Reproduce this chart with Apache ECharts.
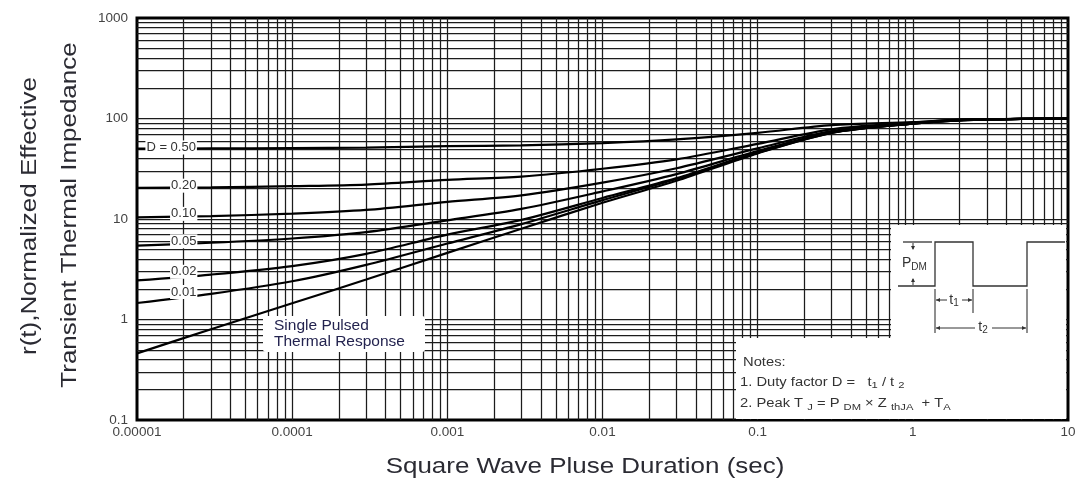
<!DOCTYPE html>
<html><head><meta charset="utf-8">
<script src="https://cdn.jsdelivr.net/npm/echarts@6/dist/echarts.min.js"></script>
<style>html,body{margin:0;padding:0;background:#fff}#c{width:1083px;height:494px}</style>
</head><body><div id="c"></div>
<script>
// ---- data ----
const durations   = [1e-5, 3e-5, 1e-4, 3e-4, 1e-3, 3e-3, 1e-2, 3e-2, 0.1, 0.3, 1, 2, 5, 10];
const singlePulse = [0.46, 0.8, 1.45, 2.5, 4.6, 8, 14.5, 24, 45, 72, 89, 96, 99, 100];
const dutyD001    = [1.46, 1.8, 2.4, 3.5, 5.7, 8.9, 15.4, 25, 45.5, 72, 89, 96, 99, 100];
const dutyD002    = [2.45, 2.8, 3.4, 4.5, 7.0, 9.8, 16.2, 25.5, 46, 72.5, 89, 96, 99, 100];
const dutyD005    = [5.44, 5.8, 6.4, 7.4, 9.7, 12.6, 18.8, 28, 47.5, 73, 89.5, 96.5, 99, 100];
const dutyD010    = [10.4, 10.7, 11.3, 12.3, 14.8, 17.2, 23, 32, 50.5, 75, 90, 96.5, 99, 100];
const dutyD020    = [20.4, 20.6, 21.2, 22, 24.5, 26.4, 31.6, 39.2, 56, 78, 91, 97, 99, 100];
const dutyD050    = [50.2, 50.4, 50.7, 51.3, 53, 54, 57, 62, 72, 86, 92, 97.5, 99, 100];
const curveLabels = ['D = 0.50', '0.20', '0.10', '0.05', '0.02', '0.01'];
const labelAnchors = [[1.66e-5, 50.3], [2e-5, 20.5], [2e-5, 10.5], [2e-5, 5.6], [2e-5, 2.6], [2e-5, 1.6]];
const xTickLabels = ['0.00001', '0.0001', '0.001', '0.01', '0.1', '1', '10'];
const yTickLabels = ['0.1', '1', '10', '100', '1000'];

// grid line values (1..9 x each decade)
const xGridVals = [];
for (let e = -5; e <= 0; e++) for (let k = 1; k <= 9; k++) { if (!(e === -5 && k === 1)) xGridVals.push(+(k * Math.pow(10, e)).toPrecision(3)); }
const yGridVals = [];
for (let e = -1; e <= 2; e++) for (let k = 1; k <= 9; k++) { if (!(e === -1 && k === 1)) yGridVals.push(+(k * Math.pow(10, e)).toPrecision(3)); }

const FONT = "'Liberation Sans', Arial, sans-serif";
const chart = echarts.init(document.getElementById('c'), null, { renderer: 'canvas' });

function curve(vals, label, anchor, offY) {
  return {
    type: 'line', data: durations.map((t, i) => [t, vals[i]]),
    showSymbol: false, smooth: 0.3, z: 10,
    lineStyle: { color: '#000', width: 2.2 }, itemStyle: { color: '#000' },
    markPoint: label ? {
      z: 30, symbol: 'rect', symbolSize: 0, silent: true, animation: false,
      data: [{ coord: anchor }],
      label: { show: true, formatter: label, position: 'inside', offset: [0, offY],
        backgroundColor: '#fff', padding: [1, 1, 0, 1], color: '#333', fontSize: 13, fontFamily: FONT }
    } : undefined
  };
}

const option = {
  animation: false,
  backgroundColor: '#fff',
  grid: { left: 137, right: 15, top: 18, bottom: 74, show: true, borderColor: '#000', borderWidth: 3 },
  xAxis: {
    type: 'log', logBase: 10, min: 1e-5, max: 10, splitNumber: 6,
    axisLine: { show: false }, axisTick: { show: false }, splitLine: { show: false },
    axisLabel: { color: '#444', fontSize: 13.5, fontFamily: FONT, margin: 5,
      formatter: v => xTickLabels[Math.round(Math.log10(v)) + 5] }
  },
  yAxis: {
    type: 'log', logBase: 10, min: 0.1, max: 1000, splitNumber: 4,
    axisLine: { show: false }, axisTick: { show: false }, splitLine: { show: false },
    axisLabel: { color: '#444', fontSize: 13.5, fontFamily: FONT, margin: 9,
      formatter: v => yTickLabels[Math.round(Math.log10(v)) + 1] }
  },
  series: [
    {
      type: 'line', data: [], showSymbol: false, z: 1, silent: true,
      markLine: {
        z: 1, silent: true, symbol: ['none', 'none'], animation: false, precision: 12,
        label: { show: false },
        lineStyle: { type: 'solid', color: '#1c1c1c', width: 1.25 },
        emphasis: { disabled: true },
        data: xGridVals.map(v => ({ xAxis: v })).concat(yGridVals.map(v => ({ yAxis: v })))
      }
    },
    curve(singlePulse, null),
    curve(dutyD001, curveLabels[5], labelAnchors[5], -7),
    curve(dutyD002, curveLabels[4], labelAnchors[4], -6),
    curve(dutyD005, curveLabels[3], labelAnchors[3], -3),
    curve(dutyD010, curveLabels[2], labelAnchors[2], -3),
    curve(dutyD020, curveLabels[1], labelAnchors[1], -2),
    curve(dutyD050, curveLabels[0], labelAnchors[0], -1)
  ],
  graphic: [
    // axis titles
    { type: 'text', x: 30, y: 216, rotation: Math.PI / 2, scaleX: 1.18, z: 100,
      style: { text: 'r(t),Normalized Effective', font: '22px ' + FONT, fill: '#2b2b33', align: 'center', verticalAlign: 'middle' } },
    { type: 'text', x: 70, y: 215, rotation: Math.PI / 2, scaleX: 1.18, z: 100,
      style: { text: 'Transient Thermal Impedance', font: '22px ' + FONT, fill: '#2b2b33', align: 'center', verticalAlign: 'middle' } },
    { type: 'text', x: 585, y: 467, scaleX: 1.18, z: 100,
      style: { text: 'Square Wave Pluse Duration (sec)', font: '22px ' + FONT, fill: '#2b2b33', align: 'center', verticalAlign: 'middle' } },
    // inset white areas
    { type: 'rect', z: 50, shape: { x: 891, y: 225, width: 175, height: 194 }, style: { fill: '#fff' } },
    { type: 'rect', z: 50, shape: { x: 736, y: 338, width: 330, height: 81 }, style: { fill: '#fff' } },
    // single pulsed label
    { type: 'rect', z: 50, shape: { x: 263, y: 316, width: 162, height: 36, r: 3 }, style: { fill: '#fff' } },
    { type: 'text', x: 274, y: 318, z: 60,
      style: { text: 'Single Pulsed\nThermal Response', font: '15.5px ' + FONT, lineHeight: 16, fill: '#23234f' } },
    // pulse diagram
    { type: 'polyline', z: 60, shape: { points: [[898, 286], [935, 286], [935, 242], [973, 242], [973, 286], [1027, 286], [1027, 242], [1065, 242]] },
      style: { stroke: '#333', lineWidth: 1.3, fill: null } },
    { type: 'line', z: 60, shape: { x1: 903, y1: 242, x2: 932, y2: 242 }, style: { stroke: '#333', lineWidth: 1.3 } },
    { type: 'line', z: 60, shape: { x1: 913, y1: 243, x2: 913, y2: 249 }, style: { stroke: '#333', lineWidth: 1 } },
    { type: 'polygon', z: 60, shape: { points: [[911, 246], [915, 246], [913, 250]] }, style: { fill: '#333' } },
    { type: 'line', z: 60, shape: { x1: 913, y1: 279, x2: 913, y2: 285 }, style: { stroke: '#333', lineWidth: 1 } },
    { type: 'polygon', z: 60, shape: { points: [[911, 282], [915, 282], [913, 278]] }, style: { fill: '#333' } },
    { type: 'text', x: 902, y: 263, z: 60,
      style: { text: 'P{s|DM}', font: '14px ' + FONT, fill: '#333', verticalAlign: 'middle',
        rich: { s: { fontSize: 10, fontFamily: FONT, fill: '#333', padding: [8, 0, 0, 0] } } } },
    // t1 / t2 dimensions
    { type: 'line', z: 60, shape: { x1: 935, y1: 289, x2: 935, y2: 333 }, style: { stroke: '#333', lineWidth: 1.1 } },
    { type: 'line', z: 60, shape: { x1: 973, y1: 289, x2: 973, y2: 313 }, style: { stroke: '#333', lineWidth: 1.1 } },
    { type: 'line', z: 60, shape: { x1: 1027, y1: 289, x2: 1027, y2: 333 }, style: { stroke: '#333', lineWidth: 1.1 } },
    { type: 'line', z: 60, shape: { x1: 936, y1: 300, x2: 947, y2: 300 }, style: { stroke: '#333', lineWidth: 1 } },
    { type: 'line', z: 60, shape: { x1: 962, y1: 300, x2: 972, y2: 300 }, style: { stroke: '#333', lineWidth: 1 } },
    { type: 'polygon', z: 60, shape: { points: [[936, 300], [940, 298], [940, 302]] }, style: { fill: '#333' } },
    { type: 'polygon', z: 60, shape: { points: [[972, 300], [968, 298], [968, 302]] }, style: { fill: '#333' } },
    { type: 'text', x: 954, y: 300, z: 60,
      style: { text: 't{s|1}', font: '14px ' + FONT, fill: '#333', align: 'center', verticalAlign: 'middle',
        rich: { s: { fontSize: 10, fontFamily: FONT, fill: '#333', padding: [7, 0, 0, 0] } } } },
    { type: 'line', z: 60, shape: { x1: 936, y1: 328, x2: 975, y2: 328 }, style: { stroke: '#333', lineWidth: 1 } },
    { type: 'line', z: 60, shape: { x1: 992, y1: 328, x2: 1026, y2: 328 }, style: { stroke: '#333', lineWidth: 1 } },
    { type: 'polygon', z: 60, shape: { points: [[936, 328], [940, 326], [940, 330]] }, style: { fill: '#333' } },
    { type: 'polygon', z: 60, shape: { points: [[1026, 328], [1022, 326], [1022, 330]] }, style: { fill: '#333' } },
    { type: 'text', x: 983, y: 327, z: 60,
      style: { text: 't{s|2}', font: '14px ' + FONT, fill: '#333', align: 'center', verticalAlign: 'middle',
        rich: { s: { fontSize: 10, fontFamily: FONT, fill: '#333', padding: [7, 0, 0, 0] } } } },
    // notes
    { type: 'text', x: 743, y: 363, z: 60, scaleX: 1.18,
      style: { text: 'Notes:', font: '12.5px ' + FONT, fill: '#333', verticalAlign: 'middle' } },
    { type: 'text', x: 740, y: 383, z: 60, scaleX: 1.18,
      style: { text: '1. Duty factor D =   t{s|1} / t {s|2}', font: '12.5px ' + FONT, fill: '#333', verticalAlign: 'middle',
        rich: { s: { fontSize: 9.5, fontFamily: FONT, fill: '#333', padding: [5, 0, 0, 0] } } } },
    { type: 'text', x: 740, y: 404, z: 60, scaleX: 1.18,
      style: { text: '2. Peak T {s|J} = P {s|DM} \u00d7 Z {s|thJA}  + T{s|A}', font: '12.5px ' + FONT, fill: '#333', verticalAlign: 'middle',
        rich: { s: { fontSize: 9.5, fontFamily: FONT, fill: '#333', padding: [6, 0, 0, 0] } } } }
  ]
};
chart.setOption(option);
</script>
</body></html>
